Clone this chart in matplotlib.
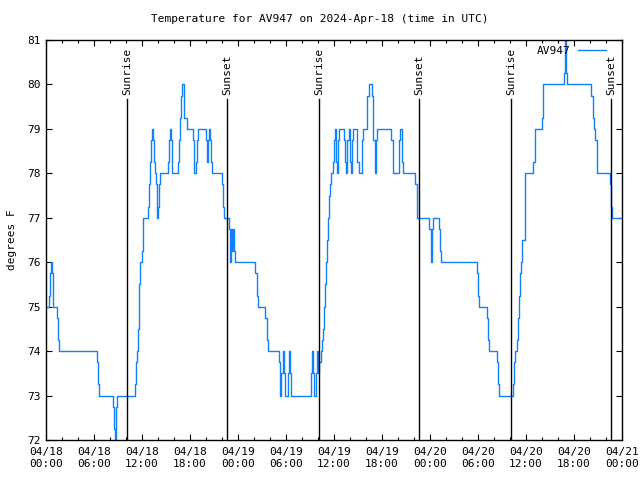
import matplotlib
matplotlib.use("Agg")
import matplotlib.pyplot as plt
import matplotlib.dates as mdates
import pandas as pd

plt.rcParams['font.family'] = ['DejaVu Sans Mono']

title = "Temperature for AV947 on 2024-Apr-18 (time in UTC)"
series_name = "AV947"
start = pd.Timestamp("2024-04-18 00:00")

# hours since 2024-04-18 00:00 UTC, temperature (F)
hours = [0.00, 0.41, 0.54, 0.62, 0.75, 0.84, 0.91, 1.41, 1.54, 1.66,
         6.34, 6.46, 6.59, 8.34, 8.46, 8.59, 8.71, 8.84,
         11.09, 11.21, 11.34, 11.46, 11.59, 11.75, 12.00, 12.09, 12.16,
         12.75, 12.88, 13.00, 13.16, 13.25, 13.38, 13.50, 13.66, 13.75,
         13.84, 13.91, 14.00, 14.09, 14.25, 15.29, 15.38, 15.50, 15.63,
         15.71, 15.79, 16.54, 16.66, 16.79, 16.88, 17.00, 17.29, 17.59,
         18.34, 18.50, 18.56, 18.75, 18.88, 19.00, 20.00, 20.16, 20.29,
         20.41, 20.54, 20.66, 20.79, 21.96, 22.09, 22.21, 22.88, 23.00,
         23.13, 23.29, 23.38, 23.50, 23.66, 26.16, 26.34, 26.46, 27.41,
         27.59, 27.71, 29.16, 29.29, 29.41, 29.59, 29.71, 29.88, 30.29,
         30.41, 30.54, 30.66, 33.09, 33.25, 33.38, 33.50, 33.75, 33.88,
         34.00, 34.16, 34.34, 34.50, 34.66, 34.79, 34.91, 35.04, 35.16,
         35.29, 35.41, 35.54, 35.66, 35.91, 36.04, 36.16, 36.29, 36.41,
         36.54, 36.66, 37.21, 37.38, 37.50, 37.66, 37.84, 38.00, 38.13,
         38.29, 38.41, 38.91, 39.16, 39.50, 39.66, 40.16, 40.34, 40.75,
         40.91, 41.09, 41.21, 41.41, 43.16, 43.34, 43.41, 44.09, 44.25,
         44.50, 44.59, 46.13, 46.34, 46.41, 47.91, 48.09, 48.21, 48.41,
         49.16, 49.29, 49.41, 53.91, 54.04, 54.16, 55.16, 55.29, 55.41,
         56.41, 56.54, 56.66, 58.41, 58.54, 58.66, 58.84, 58.96, 59.09,
         59.16, 59.25, 59.34, 59.50, 59.84, 60.91, 61.09, 61.96, 62.09,
         64.75, 64.88, 65.04, 65.13, 68.09, 68.34, 68.50, 68.66, 68.84,
         68.91, 70.50, 70.63, 70.75, 72.00]
temps = [75.0, 75.25, 75.75, 76.0, 75.75, 75.25, 75.0, 74.75, 74.25, 74.0,
         73.75, 73.25, 73.0, 72.75, 72.25, 72.0, 72.75, 73.0,
         73.25, 73.75, 74.0, 74.5, 75.5, 76.0, 76.25, 76.75, 77.0,
         77.25, 77.75, 78.25, 78.75, 79.0, 78.75, 78.25, 78.0, 77.75,
         77.25, 77.0, 77.25, 77.75, 78.0, 78.25, 78.75, 79.0, 78.75,
         78.25, 78.0, 78.25, 78.75, 79.25, 79.75, 80.0, 79.25, 79.0,
         78.75, 78.25, 78.0, 78.25, 78.75, 79.0, 78.75, 78.25, 78.75,
         79.0, 78.75, 78.25, 78.0, 77.75, 77.25, 77.0, 76.75, 76.0,
         76.75, 76.25, 76.75, 76.25, 76.0, 75.75, 75.25, 75.0, 74.75,
         74.25, 74.0, 73.75, 73.0, 73.5, 74.0, 73.5, 73.0, 73.5,
         74.0, 73.5, 73.0, 73.5, 74.0, 73.5, 73.0, 73.5, 74.0,
         73.5, 73.75, 74.0, 74.25, 74.5, 75.0, 75.5, 76.0, 76.5,
         77.0, 77.5, 77.75, 78.0, 78.25, 78.75, 79.0, 78.25, 78.0,
         78.75, 79.0, 78.75, 78.25, 78.0, 78.75, 79.0, 78.25, 78.0,
         78.75, 79.0, 78.25, 78.0, 78.75, 79.0, 79.75, 80.0, 79.75,
         78.75, 78.0, 78.75, 79.0, 78.75, 78.25, 78.0, 78.75, 79.0,
         78.25, 78.0, 77.75, 77.25, 77.0, 76.75, 76.0, 76.75, 77.0,
         76.75, 76.25, 76.0, 75.75, 75.25, 75.0, 74.75, 74.25, 74.0,
         73.75, 73.25, 73.0, 73.25, 73.75, 74.0, 74.25, 74.75, 75.0,
         75.25, 75.75, 76.0, 76.5, 78.0, 78.25, 79.0, 79.25, 80.0,
         80.25, 81.5, 80.25, 80.0, 79.75, 79.25, 79.0, 78.75, 78.25,
         78.0, 77.75, 77.25, 77.0, 77.0]

sun_events = ["Sunrise", "Sunset", "Sunrise", "Sunset", "Sunrise", "Sunset"]
sun_hours = [10.125, 22.625, 34.125, 46.625, 58.125, 70.625]

times = [start + pd.Timedelta(hours=h) for h in hours]
sun_times = [start + pd.Timedelta(hours=h) for h in sun_hours]

fig = plt.figure(figsize=(6.4, 4.8), dpi=100)
ax = fig.add_axes([46/640, 40/480, 576/640, 400/480])

line_color = '#1080ff'
ax.plot(times, temps, drawstyle='steps-post', color=line_color, lw=1.0,
        label=series_name)

ax.set_xlim(start, start + pd.Timedelta(hours=72))
ax.set_ylim(72, 81)

line_top = (79.67 - 72) / 9
for name, t in zip(sun_events, sun_times):
    ax.axvline(t, ymin=0, ymax=line_top, color='black', lw=1.0)
    ax.text(t, 79.77, name, rotation=90, ha='center', va='bottom',
            fontsize=8, color='black')

ax.xaxis.set_major_locator(mdates.HourLocator(byhour=[0, 6, 12, 18]))
ax.xaxis.set_minor_locator(mdates.HourLocator(byhour=range(0, 24, 2)))
ax.xaxis.set_major_formatter(mdates.DateFormatter("%m/%d\n%H:%M"))
ax.set_yticks(range(72, 82))

ax.tick_params(which='both', direction='in', top=True, right=True,
               labelsize=8, width=0.8)
ax.tick_params(which='major', length=4)
ax.tick_params(which='minor', length=2.5)
ax.tick_params(axis='x', pad=5)
for s in ax.spines.values():
    s.set_linewidth(1.0)

ax.set_ylabel("degrees F", fontsize=8, labelpad=8)
fig.text(0.5, 1 - 19/480, title, ha='center', va='center', fontsize=8)

leg = ax.legend(loc='upper right', frameon=False, markerfirst=False,
                fontsize=8, handlelength=2.6, borderaxespad=0.1,
                bbox_to_anchor=(1 - 10/576, 1.0), handletextpad=0.6)

fig.savefig("out.png", dpi=100)
